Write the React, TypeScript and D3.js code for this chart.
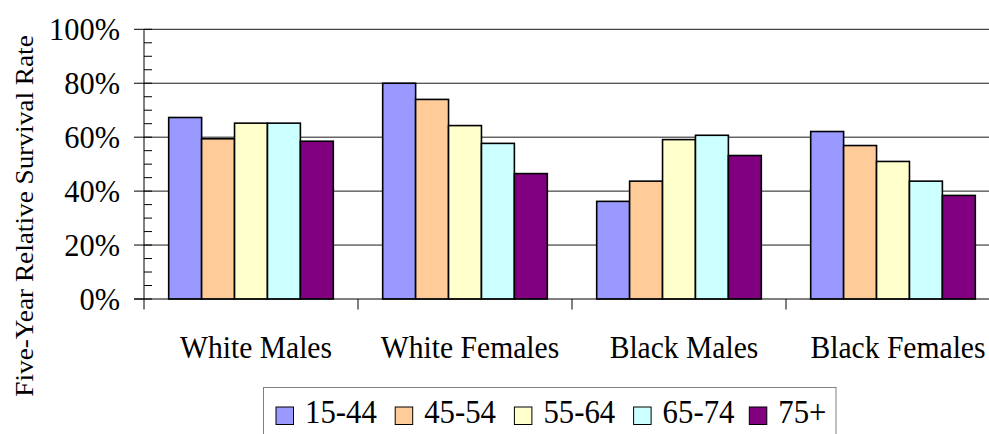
import React from "react";
import * as d3 from "d3";

const categories = ["White Males", "White Females", "Black Males", "Black Females"];
const seriesNames = ["15-44", "45-54", "55-64", "65-74", "75+"];
const seriesColors = ["#9999FF", "#FFCC99", "#FFFFCC", "#CCFFFF", "#800080"];
// values per series, in category order
const s1544 = [67.3, 80.0, 36.2, 62.1];
const s4554 = [59.4, 74.0, 43.7, 56.9];
const s5564 = [65.2, 64.3, 59.1, 51.0];
const s6574 = [65.2, 57.7, 60.7, 43.7];
const s75p = [58.5, 46.5, 53.2, 38.4];
const seriesValues = [s1544, s4554, s5564, s6574, s75p];
const yTicks = [0, 20, 40, 60, 80, 100];
const yMinorTicks = d3.range(0, 101, 5);

const FONT = "'Liberation Serif', 'Times New Roman', serif";
const SY = 1.07;

export default function App() {
  const W = 989, H = 434;
  const left = 144, right = 1000, top = 29.3, bottom = 299;
  const x0 = d3.scaleBand<string>().domain(categories).range([left, right]).paddingInner(0).paddingOuter(0);
  const x1 = d3.scaleBand<string>().domain(seriesNames).range([0, x0.bandwidth()]).paddingInner(0).paddingOuter(0.75);
  const y = d3.scaleLinear().domain([0, 100]).range([bottom, top]);

  const T = (x: number, yy: number, s: string, size: number, anchor: string, key?: any) => (
    <text key={key} transform={`translate(${x},${yy}) scale(1,${SY})`} fontFamily={FONT} fontSize={size} textAnchor={anchor} fill="#000">{s}</text>
  );

  const legendX0 = 276;
  const legendStep = 119.2;

  return (
    <svg width={W} height={H} style={{ position: "absolute", left: 0, top: 0, display: "block" }}>
      <rect x={0} y={0} width={W} height={H} fill="#fff" />
      {/* gridlines */}
      {yTicks.filter(t => t > 0).map(t => (
        <line key={"g" + t} x1={left} x2={right} y1={y(t)} y2={y(t)} stroke="#1a1a1a" strokeWidth={1} />
      ))}
      {/* bars */}
      {categories.map((c, ci) => (
        <g key={c}>
          {seriesNames.map((s, si) => {
            const v = seriesValues[si][ci];
            const bx = (x0(c) as number) + (x1(s) as number);
            return (
              <rect key={s} x={bx} y={y(v)} width={x1.bandwidth()} height={y(0) - y(v)}
                fill={seriesColors[si]} stroke="#000" strokeWidth={1.6} />
            );
          })}
        </g>
      ))}
      {/* y axis */}
      <line x1={left} x2={left} y1={top} y2={bottom + 10.5} stroke="#000" strokeWidth={1} />
      {yMinorTicks.map(t => (
        <line key={"m" + t} x1={left} x2={left + 8} y1={y(t)} y2={y(t)} stroke="#000" strokeWidth={1} />
      ))}
      {yTicks.map(t => (
        <line key={"M" + t} x1={left - 10} x2={left} y1={y(t)} y2={y(t)} stroke="#000" strokeWidth={1} />
      ))}
      {yTicks.map(t => T(120, y(t) + 10.8, `${t}%`, 30.4, "end", "l" + t))}
      {/* x axis */}
      <line x1={left - 10} x2={right} y1={bottom} y2={bottom} stroke="#000" strokeWidth={1} />
      {categories.map((c, i) => (
        <line key={"ct" + i} x1={(x0(c) as number) + x0.bandwidth()} x2={(x0(c) as number) + x0.bandwidth()} y1={bottom} y2={bottom + 10.5} stroke="#000" strokeWidth={1} />
      ))}
      {categories.map((c, i) => T((x0(c) as number) + x0.bandwidth() / 2 + 5, 358.3, c, 29.6, "middle", "cl" + i))}
      {/* y title */}
      <text transform={`translate(33.3,216) scale(1,${SY}) rotate(-90)`} fontFamily={FONT} fontSize={25.5} textAnchor="middle" fill="#000">
        Five-Year Relative Survival Rate
      </text>
      {/* legend */}
      <rect x={263.5} y={387.5} width={572.5} height={60} fill="#fff" stroke="#808080" strokeWidth={1} />
      {seriesNames.map((s, i) => {
        const lx = legendX0 + i * legendStep - (i === 4 ? 3.5 : 0);
        return (
          <g key={"lg" + s}>
            <rect x={lx} y={407} width={17.5} height={17.5} fill={seriesColors[i]} stroke="#000" strokeWidth={1} />
            {T(lx + 29, 423.3, s, 30.8, "start")}
          </g>
        );
      })}
    </svg>
  );
}
